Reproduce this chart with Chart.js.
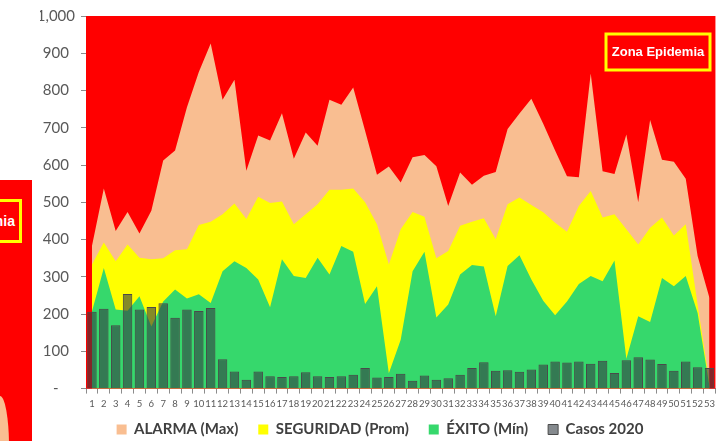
<!DOCTYPE html>
<html lang="es">
<head>
<meta charset="utf-8">
<title>Canal endémico</title>
<script src="https://cdn.jsdelivr.net/npm/chart.js@4.4.1/dist/chart.umd.min.js"></script>
<style>
  html, body { margin: 0; padding: 0; background: #fff; overflow: hidden; }
  #contenedor { position: relative; width: 720px; height: 441px; }
  #canal { position: absolute; left: 0; top: 0; }
  /* recorte del grafico vecino a la izquierda */
  #vecino { position: absolute; left: 0; top: 180px; width: 32px; height: 261px; background: #ff0000; overflow: hidden; }
  #vecino .zona { position: absolute; right: 10px; top: 19px; height: 38px; padding: 0 4px;
    border: 3px solid #ffff00; color: #fff; font: bold 14px "Liberation Sans", Arial, sans-serif;
    line-height: 38px; white-space: nowrap; }
  #vecino .borde { position: absolute; left: 0; top: 216px; width: 9px; height: 50px;
    background: #f9be91; border-top-right-radius: 100% 100%; }
</style>
</head>
<body>
<div id="contenedor">
  <canvas id="canal" width="720" height="441"></canvas>
  <div id="vecino"><div class="zona">Zona Epidemia</div><div class="borde"></div></div>
</div>
<script>
// Semanas epidemiologicas
const semanas = ['1','2','3','4','5','6','7','8','9','10','11','12','13','14','15','16','17','18','19','20',
  '21','22','23','24','25','26','27','28','29','30','31','32','33','34','35','36','37','38','39','40',
  '41','42','43','44','45','46','47','48','49','50','51','52','53'];

// Canal endemico: maximo, promedio y minimo
const alarma = [383,537,423,474,416,477,612,639,755,850,926,775,829,585,679,666,739,617,687,652,
  775,762,808,692,574,596,553,621,627,597,490,580,547,571,581,697,738,778,711,639,
  570,567,846,583,576,682,500,721,614,609,563,356,243];
const seguridad = [333,392,342,387,351,347,350,371,374,439,448,468,497,455,515,498,502,441,468,495,
  534,534,537,500,441,333,428,474,461,350,369,437,448,457,401,495,513,493,473,445,
  421,490,530,459,468,428,387,432,459,411,441,226,15];
const exito = [207,324,212,209,248,167,234,266,242,253,230,315,342,324,293,218,347,302,297,351,
  306,383,367,227,275,41,131,315,367,191,226,306,332,328,194,329,358,293,236,197,
  234,281,302,288,344,80,194,179,297,275,302,203,5];

// Casos notificados 2020
const casos = [206,214,170,254,212,219,229,190,212,208,216,79,46,24,46,33,31,33,44,33,
  31,33,37,55,30,31,40,21,35,24,28,37,55,71,48,49,45,51,65,73,
  70,73,67,75,42,76,84,78,66,48,73,57,55];

// Etiquetas del eje Y
const etiquetasY = ['-','100','200','300','400','500','600','700','800','900','1,000'];

// Fondo rojo (zona epidemia) y recuadro de texto
const zonaEpidemia = {
  id: 'zonaEpidemia',
  afterLayout(chart) {
    // subir la leyenda hacia las etiquetas del eje X
    const leyenda = chart.legend;
    leyenda.top -= 13;
    leyenda.bottom -= 13;
  },
  beforeDatasetsDraw(chart) {
    const { ctx, chartArea: a } = chart;
    ctx.save();
    ctx.fillStyle = '#ff0000';
    ctx.fillRect(a.left, a.top, a.right - a.left, a.bottom - a.top);
    ctx.restore();
  },
  afterDatasetsDraw(chart) {
    const ctx = chart.ctx;
    ctx.save();
    ctx.strokeStyle = '#ffff00';
    ctx.lineWidth = 3;
    ctx.strokeRect(606, 34, 104, 36);
    ctx.fillStyle = '#ffffff';
    ctx.font = 'bold 13px "Liberation Sans", Arial, sans-serif';
    ctx.textAlign = 'center';
    ctx.textBaseline = 'middle';
    ctx.fillText('Zona Epidemia', 658, 52);
    ctx.restore();
  }
};

const ctx = document.getElementById('canal').getContext('2d');

const config = {
  type: 'bar',
  data: {
    labels: semanas,
    datasets: [
      { type: 'line', label: 'ALARMA (Max)', data: alarma, backgroundColor: '#f9be91', borderColor: '#f9be91',
        borderWidth: 0, pointRadius: 0, fill: 'origin', tension: 0, order: 3 },
      { type: 'line', label: 'SEGURIDAD (Prom)', data: seguridad, backgroundColor: '#ffff00', borderColor: '#ffff00',
        borderWidth: 0, pointRadius: 0, fill: 'origin', tension: 0, order: 2 },
      { type: 'line', label: 'ÉXITO (Mín)', data: exito, backgroundColor: '#36d86c', borderColor: '#36d86c',
        borderWidth: 0, pointRadius: 0, fill: 'origin', tension: 0, order: 1 },
      { type: 'bar', label: 'Casos 2020', data: casos, backgroundColor: 'rgba(52,60,66,0.6)', borderColor: '#4a4a4a',
        borderWidth: 1, barPercentage: 0.8, categoryPercentage: 1, order: 0 }
    ]
  },
  options: {
    responsive: false,
    animation: false,
    layout: { padding: { left: 40, right: 0, top: 16, bottom: -19 } },
    plugins: {
      tooltip: { enabled: false },
      legend: {
        position: 'bottom',
        labels: {
          sort: (a, b) => a.datasetIndex - b.datasetIndex,
          boxWidth: 10,
          boxHeight: 10,
          padding: 20,
          color: '#404040',
          font: { family: 'Lato, "Liberation Sans", sans-serif', size: 15, weight: 'bold' }
        }
      }
    },
    scales: {
      x: {
        offset: true,
        grid: { display: true, drawOnChartArea: false, offset: true, tickLength: 5, color: '#8c8c8c' },
        border: { color: '#8c8c8c' },
        ticks: {
          autoSkip: false, maxRotation: 0, padding: 5, color: '#595959',
          font: { family: '"Liberation Sans Narrow", "Arial Narrow", Lato, sans-serif', size: 9.5 }
        }
      },
      y: {
        min: 0,
        max: 1000,
        afterFit: (s) => { s.width = 46; },
        grid: { display: true, drawOnChartArea: false, tickLength: 5, color: '#8c8c8c' },
        border: { color: '#8c8c8c' },
        ticks: {
          stepSize: 100, padding: 6, crossAlign: 'center', color: '#595959',
          font: { family: 'Lato, "Liberation Sans", sans-serif', size: 15 },
          callback: (v, i) => etiquetasY[i]
        }
      }
    }
  },
  plugins: [zonaEpidemia]
};

const grafico = new Chart(ctx, config);
</script>
</body>
</html>
